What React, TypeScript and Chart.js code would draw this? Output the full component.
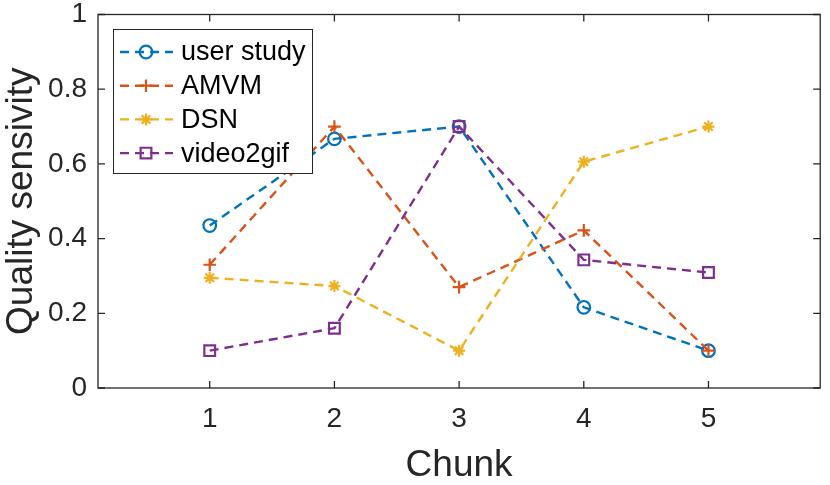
import { useEffect, useRef } from 'react';
import { Chart, registerables, type Plugin } from 'chart.js';
import { drawPoint } from 'chart.js/helpers';

Chart.register(...registerables);

// values
const chunks = [1, 2, 3, 4, 5];
const userStudy = [0.435, 0.667, 0.7, 0.216, 0.1];
const amvm = [0.33, 0.7, 0.27, 0.422, 0.1];
const dsn = [0.295, 0.273, 0.1, 0.606, 0.7];
const video2gif = [0.1, 0.16, 0.7, 0.343, 0.309];
const yTicks = [0, 0.2, 0.4, 0.6, 0.8, 1];

const FONT = '"Liberation Sans", Arial, sans-serif';
const AXIS = '#262626';

function series(label: string, values: number[], color: string, pointStyle: string, radius: number, order: number) {
  return {
    label,
    data: chunks.map((c, i) => ({ x: c, y: values[i] })),
    borderColor: color,
    backgroundColor: color,
    borderWidth: 2.4,
    borderDash: [9, 6],
    pointStyle,
    pointRadius: radius,
    pointBorderWidth: 2.2,
    pointBorderColor: color,
    pointBackgroundColor: 'rgba(0,0,0,0)',
    tension: 0,
    order,
  };
}

const axesBox: Plugin = {
  id: 'axesBox',
  beforeDatasetsDraw(chart) {
    const { ctx, chartArea: a, scales } = chart;
    ctx.save();
    ctx.strokeStyle = AXIS;
    ctx.lineWidth = 1.3;
    ctx.beginPath();
    chunks.forEach((c) => {
      const x = scales.x.getPixelForValue(c);
      ctx.moveTo(x, a.bottom);
      ctx.lineTo(x, a.bottom - 7);
      ctx.moveTo(x, a.top);
      ctx.lineTo(x, a.top + 7);
    });
    yTicks.forEach((v) => {
      const y = scales.y.getPixelForValue(v);
      ctx.moveTo(a.left, y);
      ctx.lineTo(a.left + 7, y);
      ctx.moveTo(a.right, y);
      ctx.lineTo(a.right - 7, y);
    });
    ctx.stroke();
    ctx.strokeRect(a.left, a.top, a.right - a.left, a.bottom - a.top);
    ctx.restore();
  },
};

const boxLegend: Plugin = {
  id: 'boxLegend',
  afterDraw(chart) {
    const { ctx, chartArea: a } = chart;
    const x0 = a.left + 15;
    const y0 = a.top + 14.5;
    const w = 199;
    const h = 144;
    ctx.save();
    ctx.fillStyle = '#ffffff';
    ctx.fillRect(x0, y0, w, h);
    ctx.strokeStyle = AXIS;
    ctx.lineWidth = 1;
    ctx.strokeRect(x0 + 0.5, y0 + 0.5, w, h);
    chart.data.datasets.forEach((ds: any, i) => {
      const cy = y0 + 23 + i * 33.7;
      ctx.strokeStyle = ds.borderColor;
      ctx.lineWidth = ds.borderWidth;
      ctx.setLineDash(ds.borderDash);
      ctx.beginPath();
      ctx.moveTo(x0 + 7, cy);
      ctx.lineTo(x0 + 60, cy);
      ctx.stroke();
      ctx.setLineDash([]);
      ctx.lineWidth = ds.pointBorderWidth;
      ctx.fillStyle = 'rgba(0,0,0,0)';
      drawPoint(ctx, { pointStyle: ds.pointStyle, radius: ds.pointRadius, borderWidth: ds.pointBorderWidth, rotation: 0 }, x0 + 33, cy);
      ctx.fillStyle = '#000000';
      ctx.font = `27px ${FONT}`;
      ctx.textBaseline = 'middle';
      ctx.textAlign = 'left';
      ctx.fillText(ds.label, x0 + 68, cy + 1);
    });
    ctx.restore();
  },
};

export default function App() {
  const canvasRef = useRef<HTMLCanvasElement | null>(null);

  useEffect(() => {
    const canvas = canvasRef.current;
    if (!canvas) return;
    const chart = new Chart(canvas, {
      type: 'line',
      data: {
        datasets: [
          series('user study', userStudy, '#0072BD', 'circle', 6.3, 4),
          series('AMVM', amvm, '#D95319', 'cross', 6.3, 3),
          series('DSN', dsn, '#EDB120', 'star', 6, 2),
          series('video2gif', video2gif, '#7E2F8E', 'rect', 7.6, 1),
        ] as any,
      },
      options: {
        animation: false,
        responsive: true,
        maintainAspectRatio: false,
        layout: { padding: { top: 14.5, right: 8, left: 0, bottom: 0 } },
        plugins: { legend: { display: false }, tooltip: { enabled: false } },
        scales: {
          x: {
            type: 'linear',
            min: 0.104,
            max: 5.896,
            afterBuildTicks: (scale: any) => {
              scale.ticks = chunks.map((v) => ({ value: v }));
            },
            afterFit: (scale: any) => {
              scale.height = 97;
              scale.paddingLeft = 0;
              scale.paddingRight = 0;
            },
            grid: { display: false, drawTicks: false },
            border: { display: false },
            ticks: {
              color: AXIS,
              padding: 14,
              font: { family: FONT, size: 28 },
              maxRotation: 0,
            },
            title: {
              display: true,
              text: 'Chunk',
              color: AXIS,
              font: { family: FONT, size: 37 },
              padding: { top: 0, bottom: -3 },
            },
          },
          y: {
            type: 'linear',
            min: 0,
            max: 1,
            afterBuildTicks: (scale: any) => {
              scale.ticks = yTicks.map((v) => ({ value: v }));
            },
            afterFit: (scale: any) => {
              scale.width = 98;
              scale.paddingTop = 0;
              scale.paddingBottom = 0;
            },
            grid: { display: false, drawTicks: false },
            border: { display: false },
            ticks: {
              color: AXIS,
              padding: 11,
              font: { family: FONT, size: 28 },
              callback: (v: any) => String(+Number(v).toFixed(1)),
            },
            title: {
              display: true,
              text: 'Quality sensivity',
              color: AXIS,
              font: { family: FONT, size: 37 },
              padding: 0,
            },
          },
        },
      },
      plugins: [axesBox, boxLegend],
    });
    return () => chart.destroy();
  }, []);

  return (
    <div style={{ position: 'absolute', left: 0, top: 0, width: 830, height: 485, background: '#fff' }}>
      <canvas ref={canvasRef} />
    </div>
  );
}
